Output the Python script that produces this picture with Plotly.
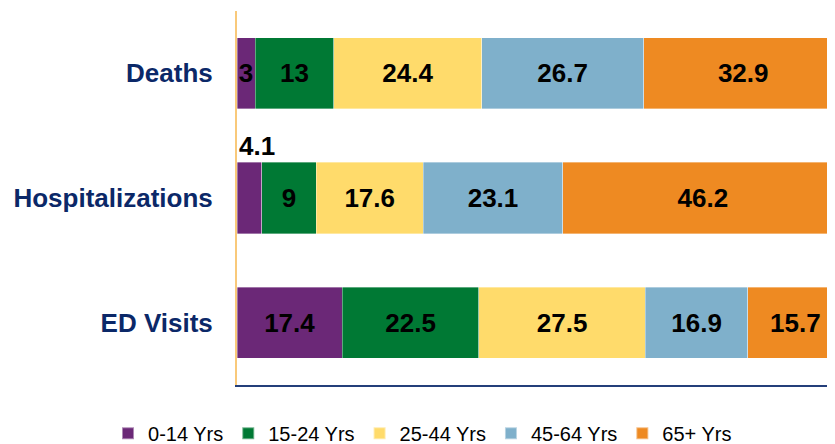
import plotly.graph_objects as go

categories = ["Deaths", "Hospitalizations", "ED Visits"]
age_groups = ["0-14 Yrs", "15-24 Yrs", "25-44 Yrs", "45-64 Yrs", "65+ Yrs"]
values = {
    "0-14 Yrs": [3, 4.1, 17.4],
    "15-24 Yrs": [13, 9, 22.5],
    "25-44 Yrs": [24.4, 17.6, 27.5],
    "45-64 Yrs": [26.7, 23.1, 16.9],
    "65+ Yrs": [32.9, 46.2, 15.7],
}
colors = ["#6B2877", "#007934", "#FFDB6B", "#7FB0CB", "#EE8A22"]

# labels too wide for their segment are shown above the bar instead
outside_labels = {("0-14 Yrs", "Hospitalizations")}

fig = go.Figure()
for g, c in zip(age_groups, colors):
    vals = values[g]
    texts = ["" if (g, cat) in outside_labels else f"{v:g}" for cat, v in zip(categories, vals)]
    fig.add_trace(go.Bar(
        name=g, y=categories, x=vals, orientation="h",
        marker=dict(color=c, line=dict(color="rgba(255,255,255,0.45)", width=0.8)),
        text=texts, textposition="inside", insidetextanchor="middle",
        textangle=0,
        textfont=dict(family="Liberation Sans, Arial", size=26, color="black", weight="bold"),
        hoverinfo="skip",
    ))

for g, cat in outside_labels:
    fig.add_annotation(
        x=0, y=cat, xref="x", yref="y", text=f"<b>{values[g][categories.index(cat)]:g}</b>",
        showarrow=False, xanchor="left", yanchor="bottom", yshift=35, xshift=0,
        font=dict(family="Liberation Sans, Arial", size=26, color="black"),
    )

fig.update_layout(
    barmode="stack",
    bargap=0.43,
    width=827, height=436,
    margin=dict(l=229, r=0, t=3, b=59, autoexpand=False),
    paper_bgcolor="white", plot_bgcolor="white",
    uniformtext=dict(minsize=26, mode="show"),
    font=dict(family="Liberation Sans, Arial"),
    showlegend=True,
    legend=dict(
        orientation="h", x=-0.2157, xanchor="left", y=-0.129, yanchor="middle",
        font=dict(family="Liberation Sans, Arial", size=20, color="black"),
        traceorder="normal", itemsizing="constant",
    ),
    xaxis=dict(range=[0, 98.7], showgrid=False, zeroline=False, showticklabels=False,
               showline=True, linecolor="#243F7A", linewidth=2, fixedrange=True),
    yaxis=dict(autorange="reversed", showgrid=False, zeroline=False,
               showline=True, linecolor="#F9C97A", linewidth=2,
               ticklabelstandoff=17,
               tickfont=dict(family="Liberation Sans, Arial", size=26, color="#0B2868", weight="bold")),
)

fig.write_html("out.html")
